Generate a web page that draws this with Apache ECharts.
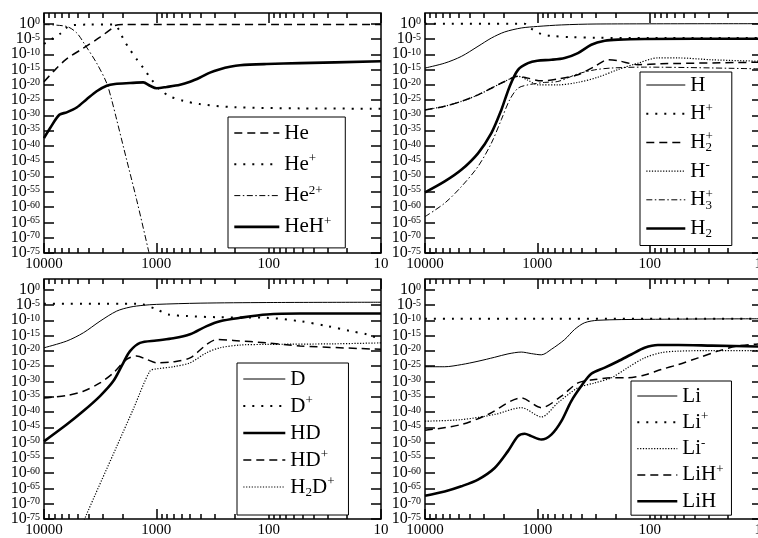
<!DOCTYPE html>
<html>
<head>
<meta charset="utf-8">
<script src="https://cdn.jsdelivr.net/npm/echarts@6/dist/echarts.min.js"></script>
<style>
  html, body { margin: 0; padding: 0; background: #fff; }
  #chart { width: 758px; height: 538px; }
</style>
</head>
<body>
<div id="chart"></div>
<script>
// rows are [redshift, log10 of fractional abundance]

// helium panel
var he      = [[10000,-19],[7980,-15.1],[6285,-11.5],[4465,-8],[3172,-4.4],[2500,-1.6],[2332,-0.6],[2000,-0.3],[10,-0.3]];
var hePlus  = [[10000,-6.6],[7061,-3.1],[5867,-0.6],[4000,-0.3],[2400,-0.3],[2150,-2],[1967,-5],[1715,-8.5],[1497,-11.6],[1306,-14.5],[1100,-18.3],[927,-21.6],[755,-23.8],[575,-25.2],[408,-26.3],[206,-27.3],[52.6,-27.7],[10,-27.8]];
var he2Plus = [[10000,-0.3],[6285,-0.9],[5118,-3],[4316,-6.9],[3398,-12.9],[2768,-19.4],[2499,-24.9],[2254,-31.4],[1838,-44.5],[1497,-57.6],[1178,-74],[1100,-79]];
var heHPlus = [[10000,-37.4],[8843,-34.2],[7300,-29.8],[6285,-29],[5118,-27.4],[4169,-24.7],[3398,-22.1],[2768,-20.3],[2332,-19.7],[1715,-19.4],[1306,-19.2],[1139,-20.3],[993,-21.1],[809,-20.7],[615,-20],[501,-19],[408,-17.6],[333,-16],[271,-14.9],[221,-14.1],[180,-13.6],[104,-13.2],[52.6,-12.9],[10,-12.3]];

// hydrogen panel
var h       = [[10000,-14.5],[6683,-12.9],[4748,-10.7],[3374,-7.4],[2567,-4.7],[1954,-2.7],[1388,-1.4],[1000,-0.9],[611,-0.4],[300,-0.1],[10,0]];
var hPlus   = [[10000,0],[1300,0],[1150,-1.5],[921,-3.4],[750,-4],[500,-4.4],[300,-4.6],[100,-4.7],[10,-4.7]];
var h2Plus  = [[10000,-28.2],[6683,-27],[4748,-25.4],[3374,-23.3],[2567,-21.1],[1954,-18.9],[1486,-17.2],[1211,-17.8],[921,-18.7],[657,-18.1],[435,-16.7],[309,-14],[235,-11.8],[191,-12.1],[127,-13.4],[79,-13.1],[10,-12.6]];
var hMinus  = [[10000,-28.2],[6683,-27],[4748,-25.4],[3374,-23.3],[2567,-21.1],[1954,-18.9],[1486,-17.2],[1211,-18.5],[987,-20],[657,-20],[435,-19.2],[289,-17.5],[191,-15],[127,-12.9],[84.5,-11.2],[55.6,-11.2],[28,-11.8],[10,-12.3]];
var h3Plus  = [[10000,-63.1],[6683,-58.7],[4748,-53.3],[3374,-46.7],[2567,-39.1],[2092,-31.4],[1763,-24.9],[1486,-21.1],[1211,-20],[860,-19.2],[657,-18.9],[435,-16.4],[309,-15.1],[219,-14.5],[111,-14.2],[10,-14.8]];
var h2      = [[10000,-55.2],[6683,-51.6],[4748,-47.8],[3374,-42.4],[2567,-35.8],[2092,-28.2],[1763,-20.5],[1486,-15.1],[1211,-12.9],[1000,-12.1],[750,-11.8],[571,-11.2],[435,-9.6],[331,-6.9],[251,-5.6],[191,-5.2],[111,-5],[10,-4.9]];

// deuterium panel
var d       = [[10000,-19],[6285,-16.8],[4465,-14.1],[3172,-10.3],[2254,-7],[1715,-5.7],[1306,-5.1],[1000,-4.8],[408,-4.4],[104,-4.2],[10,-4.1]];
var dPlus   = [[10000,-4.6],[1500,-4.6],[1306,-4.8],[1000,-6.4],[780,-8.1],[537,-8.6],[290,-9],[104,-9.2],[52.6,-10.3],[30,-11.9],[18.9,-13.5],[13.4,-14.6],[10,-16.3]];
var hd      = [[10000,-49.6],[6285,-44.1],[4465,-39.7],[3172,-34.8],[2414,-29.9],[1967,-23.9],[1715,-20.1],[1397,-17.4],[1000,-16.6],[706,-15.9],[501,-14.6],[356,-11.9],[271,-10.3],[180,-9.2],[104,-8.1],[52.6,-7.8],[10,-7.8]];
var hdPlus  = [[10000,-35.4],[6285,-34.6],[4465,-33.2],[3172,-30.5],[2414,-27.2],[1838,-22.8],[1497,-21.7],[1220,-22.8],[993,-23.9],[706,-23.6],[501,-22.3],[356,-17.9],[290,-16.3],[206,-16.6],[104,-17.4],[52.6,-18.4],[10,-19.5]];
var h2dPlus = [[4600,-78],[4315,-74.7],[2254,-51.3],[1602,-39],[1139,-26.6],[993,-25.9],[706,-25.2],[501,-23.9],[356,-20.6],[271,-19],[180,-18.1],[104,-17.9],[26.6,-17.7],[10,-17.4]];

// lithium panel
var li      = [[10000,-25.2],[6683,-25.2],[4748,-24.5],[3374,-23.4],[2398,-22.1],[1826,-21],[1388,-20.4],[1131,-20.9],[921,-21.3],[750,-19.5],[571,-16.3],[466,-13],[379,-10.8],[289,-10],[111,-9.7],[10,-9.5]];
var liPlus  = [[10000,-9.5],[1000,-9.5],[10,-9.5]];
var liMinus = [[10000,-43],[4748,-42.5],[2398,-40.8],[1388,-38.6],[921,-41.6],[657,-37],[435,-32.1],[309,-30.5],[219,-28.8],[157,-25.5],[111,-22.3],[79,-20.6],[55.6,-20.1],[28,-19.9],[10,-19.9]];
var liHPlus = [[10000,-46],[4748,-44.1],[2748,-40.8],[1388,-35.4],[921,-38.6],[611,-34.8],[435,-30.5],[309,-29.4],[219,-28.8],[157,-28.8],[111,-27.9],[79,-26.1],[55.6,-24.5],[37,-22.3],[24.7,-20.1],[16.4,-18.4],[10,-17.7]];
var liH     = [[10000,-67.4],[6683,-66],[4748,-64.3],[3374,-62.1],[2398,-58.3],[1826,-52.8],[1486,-47.9],[1295,-47.1],[1131,-47.9],[921,-49],[750,-47.4],[611,-43],[500,-36.5],[406,-31.5],[331,-27.5],[251,-25.5],[191,-23.4],[146,-21.2],[111,-19],[84.5,-18.1],[55.6,-18.1],[28,-18.3],[10,-18.6]];

// ticks
var xMajor = [10000, 1000, 100, 10];
var xMinor = [9000, 8000, 7000, 6000, 5000, 4000, 3000, 2000, 900, 800, 700, 600, 500, 400, 300, 200, 90, 80, 70, 60, 50, 40, 30, 20];
var yMajor = [1, 1e-5, 1e-10, 1e-15, 1e-20, 1e-25, 1e-30, 1e-35, 1e-40, 1e-45, 1e-50, 1e-55, 1e-60, 1e-65, 1e-70, 1e-75];

var FONT = 'Liberation Serif';

// line looks
var THIN = { width: 1, type: 'solid' };
var THICK = { width: 2.6, type: 'solid' };
var DASH = { width: 1.5, type: [8, 5] };
var DOT = { width: 2, type: [2, 7] };
var FINE = { width: 1.2, type: [1.2, 1.6] };
var DASHDOT = { width: 1, type: [6, 2.5, 1.5, 2.5] };

var legendText = {
  'He': 'He', 'He+': 'He{sp|+}', 'He2+': 'He{sp|2+}', 'HeH+': 'HeH{sp|+}',
  'H': 'H', 'H+': 'H{sp|+}', 'H2+': 'H{sp0|+}{sb|2}', 'H-': 'H{sp|-}', 'H3+': 'H{sp0|+}{sb|3}', 'H2': 'H{sb|2}',
  'D': 'D', 'D+': 'D{sp|+}', 'HD': 'HD', 'HD+': 'HD{sp|+}', 'H2D+': 'H{sb|2}D{sp|+}',
  'Li': 'Li', 'Li+': 'Li{sp|+}', 'Li-': 'Li{sp|-}', 'LiH+': 'LiH{sp|+}', 'LiH': 'LiH'
};

var panels = [
  { left: 44, top: 13,
    lines: [['He', he, DASH], ['He+', hePlus, DOT], ['He2+', he2Plus, DASHDOT], ['HeH+', heHPlus, THICK]],
    legend: { left: 228, top: 117, icon: 45, textGap: 15, gap: 7.3, pad: [4, 14, 9, 5] } },
  { left: 425, top: 13,
    lines: [['H', h, THIN], ['H+', hPlus, DOT], ['H2+', h2Plus, DASH], ['H-', hMinus, FINE], ['H3+', h3Plus, DASHDOT], ['H2', h2, THICK]],
    legend: { left: 640, top: 72, icon: 39, textGap: 9, gap: 4.7, pad: [1, 19, 5, 5] } },
  { left: 44, top: 279,
    lines: [['D', d, THIN], ['D+', dPlus, DOT], ['HD', hd, THICK], ['HD+', hdPlus, DASH], ['H2D+', h2dPlus, FINE]],
    legend: { left: 237, top: 363, icon: 42, textGap: 13, gap: 3, pad: [4, 14, 16, 5] } },
  { left: 425, top: 279,
    lines: [['Li', li, THIN], ['Li+', liPlus, DOT], ['Li-', liMinus, FINE], ['LiH+', liHPlus, DASH], ['LiH', liH, THICK]],
    legend: { left: 631, top: 381, icon: 40, textGap: 5, gap: 2.3, pad: [3, 8, 2, 5] } }
];

function toPoints(rows) {
  return rows.map(function (r) { return [r[0], Math.pow(10, r[1])]; });
}

function makeX(g, pos, ticks, len, labels) {
  return {
    type: 'log', logBase: 10, gridIndex: g, position: pos, inverse: true,
    min: 10, max: 10000,
    axisLine: { show: false, onZero: false },
    axisTick: { show: true, inside: true, length: len, customValues: ticks, lineStyle: { color: '#000', width: 1.5 } },
    axisLabel: {
      show: labels, customValues: ticks, margin: 4, showMinLabel: true, showMaxLabel: true,
      color: '#000', fontFamily: FONT, fontSize: 15,
      formatter: function (v) { return String(Math.round(v)); }
    },
    splitLine: { show: false }, minorTick: { show: false }
  };
}

// one y axis per label set: neighbouring labels sit on different axes so none get hidden
function makeY(g, pos, labelValues, ticks) {
  return {
    type: 'log', logBase: 10, gridIndex: g, position: pos,
    min: 1e-75, max: Math.pow(10, 3.5),
    axisLine: { show: false, onZero: false },
    axisTick: { show: ticks, inside: true, length: 10, customValues: yMajor, lineStyle: { color: '#000', width: 1.5 } },
    axisLabel: {
      show: !!labelValues, customValues: labelValues || yMajor, margin: 4, align: 'right',
      showMinLabel: true, showMaxLabel: true,
      formatter: function (v) { return '{b|10}{s|' + Math.round(Math.log10(v)) + '}'; },
      rich: {
        b: { fontFamily: FONT, fontSize: 16, lineHeight: 14, color: '#000' },
        s: { fontFamily: FONT, fontSize: 10, lineHeight: 8, color: '#000', verticalAlign: 'top' }
      }
    },
    splitLine: { show: false }
  };
}

var yEven = yMajor.filter(function (v, i) { return i % 2 === 0; });
var yOdd = yMajor.filter(function (v, i) { return i % 2 === 1; });

var grids = [], xAxes = [], yAxes = [], series = [], legends = [];

panels.forEach(function (p, g) {
  grids.push({
    left: p.left, top: p.top, width: 337, height: 240, containLabel: false, outerBoundsMode: 'none',
    show: true, borderColor: '#000', borderWidth: 1.5, backgroundColor: 'transparent'
  });
  xAxes.push(makeX(g, 'bottom', xMajor, 10, true));
  xAxes.push(makeX(g, 'bottom', xMinor, 5, false));
  xAxes.push(makeX(g, 'top', xMajor, 10, false));
  xAxes.push(makeX(g, 'top', xMinor, 5, false));
  yAxes.push(makeY(g, 'left', yEven, true));
  yAxes.push(makeY(g, 'left', yOdd, false));
  yAxes.push(makeY(g, 'right', null, true));

  p.lines.forEach(function (l) {
    series.push({
      name: l[0], type: 'line', xAxisIndex: g * 4, yAxisIndex: g * 3,
      data: toPoints(l[1]),
      symbol: 'none', showSymbol: false, smooth: 0.3, clip: true,
      lineStyle: { color: '#000', width: l[2].width, type: l[2].type },
      itemStyle: { color: '#000' },
      emphasis: { disabled: true }
    });
  });

  var lg = p.legend;
  legends.push({
    data: p.lines.map(function (l) { return l[0]; }),
    orient: 'vertical', left: lg.left, top: lg.top,
    itemWidth: lg.icon, itemHeight: 14, itemGap: lg.gap, itemTextGap: lg.textGap,
    padding: lg.pad, borderColor: '#000', borderWidth: 1, backgroundColor: '#fff',
    selectedMode: false,
    itemStyle: { color: 'rgba(0,0,0,0)', borderColor: 'rgba(0,0,0,0)', borderWidth: 0, opacity: 0 },
    lineStyle: { width: 'inherit', type: 'inherit', color: '#000' },
    formatter: function (name) { return legendText[name]; },
    textStyle: {
      fontFamily: FONT, fontSize: 21, lineHeight: 24, color: '#000',
      rich: {
        sp: { fontFamily: FONT, fontSize: 13, lineHeight: 12, verticalAlign: 'top', color: '#000' },
        sp0: { fontFamily: FONT, fontSize: 13, lineHeight: 12, verticalAlign: 'top', color: '#000', width: 0 },
        sb: { fontFamily: FONT, fontSize: 13, lineHeight: 12, verticalAlign: 'bottom', color: '#000' }
      }
    }
  });
});

var chart = echarts.init(document.getElementById('chart'), null, { renderer: 'canvas' });
chart.setOption({
  animation: false,
  backgroundColor: '#fff',
  grid: grids,
  xAxis: xAxes,
  yAxis: yAxes,
  legend: legends,
  series: series
});
</script>
</body>
</html>
